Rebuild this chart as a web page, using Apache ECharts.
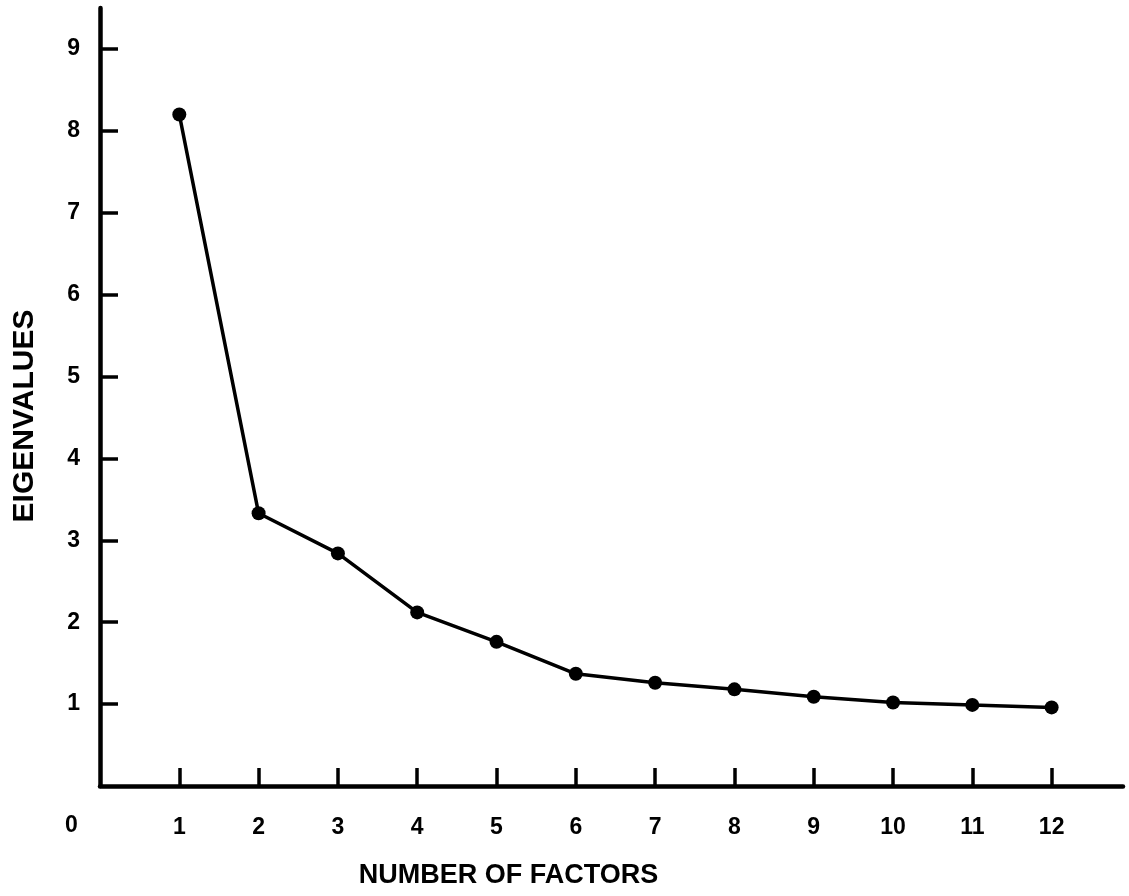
<!DOCTYPE html>
<html>
<head>
<meta charset="utf-8">
<script src="https://cdn.jsdelivr.net/npm/echarts@6/dist/echarts.min.js"></script>
<style>
  html, body { margin: 0; padding: 0; background: #fff; }
  #chart { width: 1129px; height: 896px; }
</style>
</head>
<body>
<div id="chart"></div>
<script>
// scree plot data
const factors = [1, 2, 3, 4, 5, 6, 7, 8, 9, 10, 11, 12];
const eigenvalues = [8.2, 3.33, 2.84, 2.12, 1.76, 1.37, 1.26, 1.18, 1.09, 1.02, 0.99, 0.96];
const yTicks = [1, 2, 3, 4, 5, 6, 7, 8, 9];

const font = '"Liberation Sans", Arial, sans-serif';

const myChart = echarts.init(document.getElementById('chart'));

const option = {
    backgroundColor: '#fff',
    animation: false,
    grid: { left: 100, right: 6, top: 8, bottom: 110 },
    xAxis: {
        type: 'value',
        min: 0,
        max: 12.9,
        name: 'NUMBER OF FACTORS',
        nameLocation: 'middle',
        nameGap: 76,
        nameTextStyle: {
            fontFamily: font, fontWeight: 'bold', fontSize: 27, color: '#000',
            padding: [0, 206, 0, 0]
        },
        axisLine: { lineStyle: { color: '#000', width: 4.5 } },
        axisTick: {
            inside: true, length: 18,
            lineStyle: { color: '#000', width: 3.5 },
            customValues: factors
        },
        axisLabel: {
            fontFamily: font, fontWeight: 'bold', fontSize: 23, color: '#000',
            margin: 30,
            customValues: factors
        },
        splitLine: { show: false }
    },
    yAxis: {
        type: 'value',
        min: 0,
        max: 9.5,
        name: 'EIGENVALUES',
        nameLocation: 'middle',
        nameRotate: 90,
        nameGap: 60,
        nameTextStyle: {
            fontFamily: font, fontWeight: 'bold', fontSize: 30, color: '#000',
            padding: [0, 38, 0, 0]
        },
        axisLine: { lineStyle: { color: '#000', width: 4.5 } },
        axisTick: {
            inside: true, length: 18,
            lineStyle: { color: '#000', width: 3.5 },
            customValues: yTicks
        },
        axisLabel: {
            fontFamily: font, fontWeight: 'bold', fontSize: 23, color: '#000',
            margin: 20,
            customValues: yTicks
        },
        splitLine: { show: false }
    },
    graphic: [
        {
            type: 'text',
            left: 65,
            top: 814,
            style: { text: '0', fontFamily: font, fontWeight: 'bold', fontSize: 23, fill: '#000' }
        }
    ],
    series: [
        {
            type: 'line',
            data: factors.map((f, i) => [f, eigenvalues[i]]),
            symbol: 'circle',
            symbolSize: 14,
            lineStyle: { color: '#000', width: 3.5 },
            itemStyle: { color: '#000' }
        }
    ]
};

myChart.setOption(option);
</script>
</body>
</html>
